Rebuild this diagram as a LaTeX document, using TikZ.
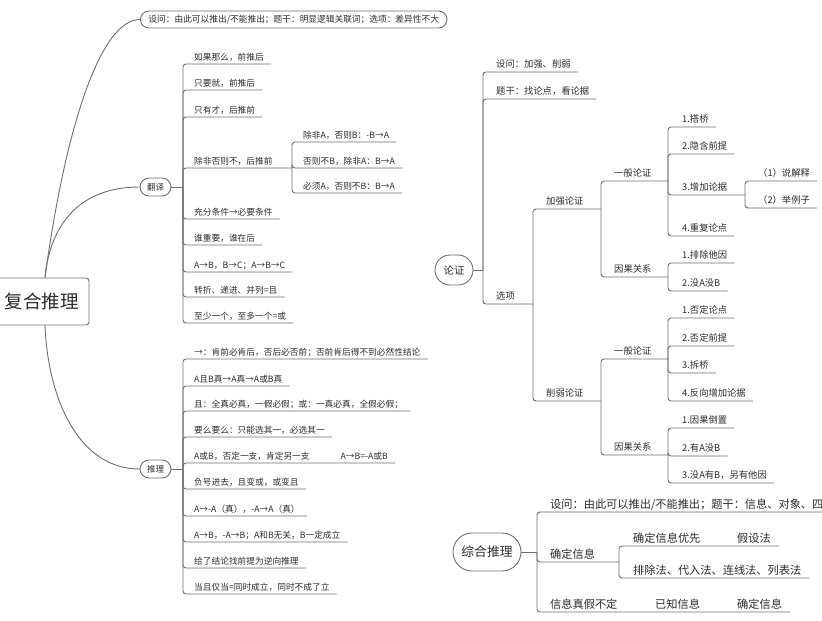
\documentclass[tikz,border=0pt]{standalone}
\usepackage{fontspec}
\setmainfont{Noto Sans CJK SC}
\definecolor{linec}{RGB}{112,112,112}
\definecolor{txtc}{RGB}{45,45,45}
\newcommand\fs[1]{\fontsize{#1pt}{#1pt}\selectfont}
\begin{document}
\begin{tikzpicture}[x=1pt,y=-1pt,
  ln/.style={draw=linec, line width=0.9pt},
  el/.style={ln, rounded corners=3pt},
  pill/.style={draw=linec, line width=0.9pt, fill=white, text=txtc, inner sep=0pt},
  lfA/.style={anchor=south west, inner xsep=7pt, inner ysep=2.65pt, text=txtc, font=\fs{8.7}, text height=7.66pt, text depth=1.04pt},
  lfB/.style={anchor=south west, inner xsep=7pt, inner ysep=3.35pt, text=txtc, font=\fs{9.3}, text height=8.18pt, text depth=1.12pt},
  lfC/.style={anchor=south west, inner xsep=8pt, inner ysep=2.4pt, text=txtc, font=\fs{11.2}, text height=9.86pt, text depth=1.34pt}]
\clip (0,0) rectangle (822,621);
\fill[white] (0,0) rectangle (822,621);

% ---------- root: 复合推理 ----------
\node[draw=linec, line width=0.9pt, fill=white, rounded corners=3pt, minimum width=94pt, minimum height=47pt, inner sep=0pt, text=txtc, font=\fs{18.5}] (root) at (42,301.5) {复合推理};
\node[pill, anchor=west, minimum height=17pt, rounded corners=8.5pt, inner xsep=8pt, font=\fs{8.7}] (tq) at (140,19.5) {设问：由此可以推出/不能推出；题干：明显逻辑关联词；选项：差异性不大};
\node[pill, minimum width=31pt, minimum height=18pt, rounded corners=9pt, font=\fs{8.5}] (fy) at (155.5,187) {翻译};
\node[pill, minimum width=31pt, minimum height=18pt, rounded corners=9pt, font=\fs{8.5}] (tl) at (155.5,469) {推理};
\draw[ln] ([xshift=3pt]root.north) .. controls +(20,-148) and +(-40,0) .. (tq.west);
\draw[ln] ([xshift=3pt]root.north) .. controls +(5,-53) and +(-60,0) .. (fy.west);
\draw[ln] ([xshift=3pt]root.south) .. controls +(3,75) and +(-60,0) .. (tl.west);

% 翻译
\coordinate (fyS) at (183,187);
\draw[ln] (fy.east) -- (fyS);
\node[lfA] (a1) at (187,64) {如果那么，前推后};
\node[lfA] (a2) at (187,90) {只要就，前推后};
\node[lfA] (a3) at (187,117) {只有才，后推前};
\node[lfA] (a4) at (187,168) {除非否则不，后推前};
\coordinate (a4S) at (292,168);
\node[lfA] (a41) at (296,142) {除非A，否则B：-B→A};
\node[lfA] (a42) at (296,168) {否则不B，除非A：B→A};
\node[lfA] (a43) at (296,193) {必须A，否则不B：B→A};
\node[lfA] (a5) at (187,219) {充分条件→必要条件};
\node[lfA] (a6) at (187,245) {谁重要，谁在后};
\node[lfA] (a7) at (187,272) {A→B，B→C；A→B→C};
\node[lfA] (a8) at (187,297) {转折、递进、并列=且};
\node[lfA] (a9) at (187,323) {至少一个，至多一个=或};
\foreach \n in {a1,a2,a3,a5,a6,a7,a8,a9} \draw[el] (fyS) |- (\n.south east);
\draw[el] (fyS) |- (a4S);
\foreach \n in {a41,a42,a43} \draw[el] (a4S) |- (\n.south east);

% 推理
\coordinate (tlS) at (183,469);
\draw[ln] (tl.east) -- (tlS);
\node[lfA] (b1) at (187,359) {→：肯前必肯后，否后必否前；否前肯后得不到必然性结论};
\node[lfA] (b2) at (187,386) {A且B真→A真→A或B真};
\node[lfA] (b3) at (187,411) {且：全真必真，一假必假；或：一真必真，全假必假；};
\node[lfA] (b4) at (187,437) {要么要么：只能选其一，必选其一};
\node[lfA] (b5) at (187,463) {A或B，否定一支，肯定另一支\hspace{31pt}A→B=-A或B};
\node[lfA] (b6) at (187,489) {负号进去，且变或，或变且};
\node[lfA] (b7) at (187,516) {A→-A（真），-A→A（真）};
\node[lfA] (b8) at (187,542) {A→B，-A→B；A和B无关，B一定成立};
\node[lfA] (b9) at (187,568) {给了结论找前提为逆向推理};
\node[lfA] (b10) at (187,594) {当且仅当=同时成立，同时不成了立};
\foreach \n in {b1,b2,b3,b4,b5,b6,b7,b8,b9,b10} \draw[el] (tlS) |- (\n.south east);

% ---------- 论证 ----------
\node[pill, minimum width=38pt, minimum height=30pt, rounded corners=15pt, font=\fs{10.5}] (lz) at (454,270) {论证};
\coordinate (lzS) at (483,270);
\draw[ln] (lz.east) -- (lzS);
\node[lfB] (c1) at (489,72) {设问：加强、削弱};
\node[lfB] (c2) at (489,99) {题干：找论点，看论据};
\node[lfB] (c3) at (489,304) {选项};
\coordinate (c3S) at (533,304);
\draw[el] (lzS) |- (c1.south east);
\draw[el] (lzS) |- (c2.south east);
\draw[el] (lzS) |- (c3S);

\node[lfB] (d1) at (539,209) {加强论证};
\coordinate (d1S) at (601,209);
\node[lfB] (d2) at (539,401) {削弱论证};
\coordinate (d2S) at (601,401);
\draw[el] (c3S) |- (d1S);
\draw[el] (c3S) |- (d2S);

\node[lfB] (e1) at (607,181) {一般论证};
\coordinate (e1S) at (668,181);
\node[lfB] (e2) at (607,277) {因果关系};
\coordinate (e2S) at (668,277);
\draw[el] (d1S) |- (e1S);
\draw[el] (d1S) |- (e2S);

\node[lfB] (f1) at (675,127) {1.搭桥};
\node[lfB] (f2) at (675,154) {2.隐含前提};
\node[lfB] (f3) at (675,195) {3.增加论据};
\coordinate (f3S) at (745,195);
\node[lfB] (f4) at (675,236) {4.重复论点};
\foreach \n in {f1,f2,f4} \draw[el] (e1S) |- (\n.south east);
\draw[el] (e1S) |- (f3S);
\node[lfB] (g1) at (751,181) {（1）说解释};
\node[lfB] (g2) at (751,208) {（2）举例子};
\foreach \n in {g1,g2} \draw[el] (f3S) |- (\n.south east);

\node[lfB] (h1) at (675,263) {1.排除他因};
\node[lfB] (h2) at (675,291) {2.没A没B};
\foreach \n in {h1,h2} \draw[el] (e2S) |- (\n.south east);

\node[lfB] (e3) at (607,359) {一般论证};
\coordinate (e3S) at (668,359);
\node[lfB] (e4) at (607,455) {因果关系};
\coordinate (e4S) at (668,455);
\draw[el] (d2S) |- (e3S);
\draw[el] (d2S) |- (e4S);

\node[lfB] (i1) at (675,318) {1.否定论点};
\node[lfB] (i2) at (675,346) {2.否定前提};
\node[lfB] (i3) at (675,373) {3.拆桥};
\node[lfB] (i4) at (675,401) {4.反向增加论据};
\foreach \n in {i1,i2,i3,i4} \draw[el] (e3S) |- (\n.south east);

\node[lfB] (j1) at (675,428) {1.因果倒置};
\node[lfB] (j2) at (675,456) {2.有A没B};
\node[lfB] (j3) at (675,483) {3.没A有B，另有他因};
\foreach \n in {j1,j2,j3} \draw[el] (e4S) |- (\n.south east);

% ---------- 综合推理 ----------
\node[pill, minimum width=68pt, minimum height=38pt, rounded corners=19pt, font=\fs{12.8}] (zh) at (487,552) {综合推理};
\coordinate (zhS) at (537,552);
\draw[ln] (zh.east) -- (zhS);
\node[lfC] (k1) at (542,512) {设问：由此可以推出/不能推出；题干：信息、对象、四};
\node[lfC] (k2) at (542,562) {确定信息};
\coordinate (k2S) at (619,562);
\node[lfC] (k3) at (542,612) {信息真假不定};
\node[lfC] (k31) at (647,612) {已知信息};
\node[lfC] (k32) at (729,612) {确定信息};
\draw[el] (zhS) |- (k1.south east);
\draw[el] (zhS) |- (k2S);
\draw[el] (zhS) |- (k32.south east);
\node[lfC] (m1) at (625,546) {确定信息优先};
\node[lfC] (m11) at (729,546) {假设法};
\node[lfC] (m2) at (625,578) {排除法、代入法、连线法、列表法};
\draw[el] (k2S) |- (m11.south east);
\draw[el] (k2S) |- (m2.south east);
\end{tikzpicture}
\end{document}
